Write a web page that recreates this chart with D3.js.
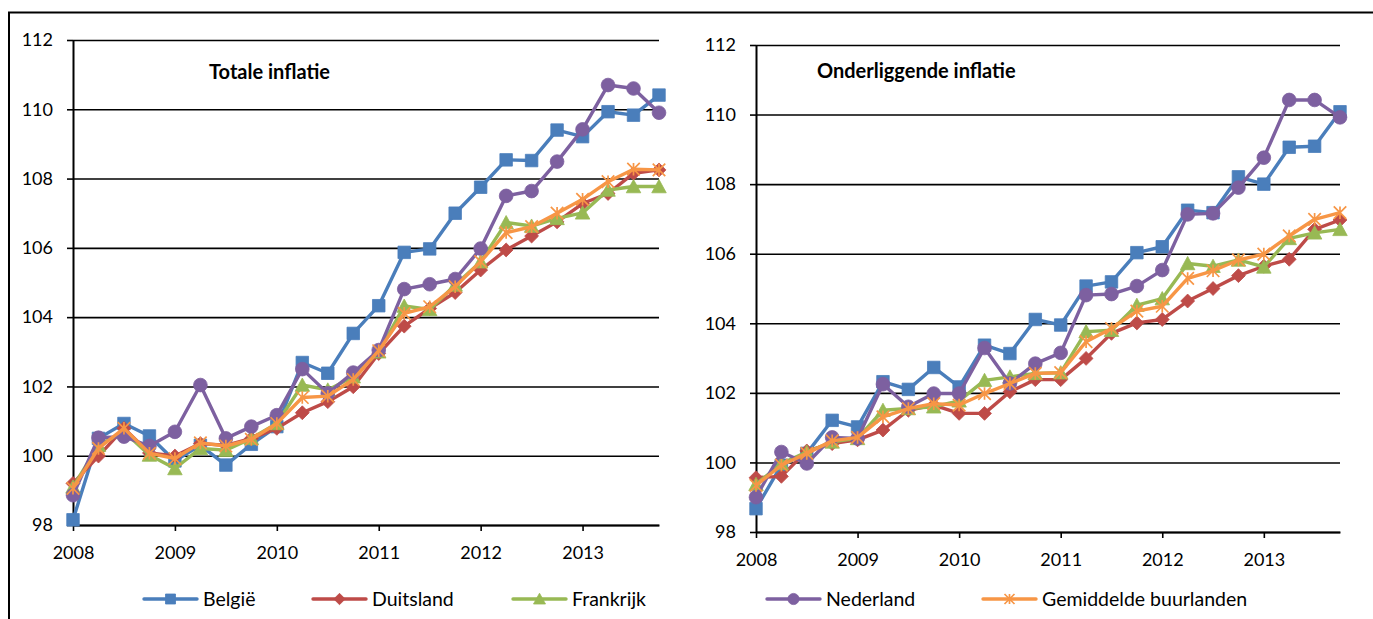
<!DOCTYPE html>
<html>
<head>
<meta charset="utf-8">
<script src="https://cdn.jsdelivr.net/npm/d3@7"></script>
<style>
  html, body { margin: 0; padding: 0; background: #fff; }
  svg { display: block; font-family: Lato, "Open Sans", sans-serif; }
</style>
</head>
<body>
<svg id="chart" width="1373" height="619"></svg>
<script>
// ---------- DATA ----------
const categories = [
  "2008K1","2008K2","2008K3","2008K4","2009K1","2009K2","2009K3","2009K4",
  "2010K1","2010K2","2010K3","2010K4","2011K1","2011K2","2011K3","2011K4",
  "2012K1","2012K2","2012K3","2012K4","2013K1","2013K2","2013K3","2013K4"
];
const xTickLabels = ["2008","2009","2010","2011","2012","2013"];
const yTickValues = [98, 100, 102, 104, 106, 108, 110, 112];
const seriesNames = ["België", "Duitsland", "Frankrijk", "Nederland", "Gemiddelde buurlanden"];
const seriesColors = ["#4A7EBB", "#BE4B48", "#98B954", "#7D60A0", "#F79646"];
const seriesMarkers = ["square", "diamond", "triangle", "circle", "star"];
const panelTitles = ["Totale inflatie", "Onderliggende inflatie"];

// Totale inflatie
const totaalBelgie     = [98.15,100.5,100.93,100.57,99.85,100.3,99.73,100.33,100.84,102.69,102.38,103.53,104.33,105.87,105.97,107.0,107.75,108.54,108.52,109.4,109.21,109.93,109.83,110.41];
const totaalDuitsland  = [99.2,99.99,100.79,100.08,99.99,100.35,100.3,100.5,100.79,101.24,101.56,101.99,102.95,103.74,104.25,104.71,105.36,105.94,106.34,106.75,107.28,107.57,108.15,108.25];
const totaalFrankrijk  = [99.1,100.3,100.69,100.02,99.63,100.21,100.16,100.5,100.93,102.04,101.9,102.28,103.0,104.32,104.22,104.93,105.6,106.73,106.63,106.85,107.01,107.67,107.77,107.77];
const totaalNederland  = [98.86,100.52,100.55,100.28,100.69,102.04,100.5,100.84,101.17,102.5,101.8,102.4,103.05,104.81,104.95,105.1,105.98,107.5,107.64,108.49,109.42,110.7,110.6,109.9];
const totaalGemiddeld  = [99.06,100.21,100.79,100.07,99.92,100.37,100.28,100.47,100.93,101.68,101.72,102.2,103.03,104.11,104.3,104.88,105.6,106.44,106.61,107.0,107.4,107.91,108.27,108.25];

// Onderliggende inflatie
const onderBelgie      = [98.67,99.92,100.26,101.21,101.02,102.32,102.1,102.73,102.17,103.37,103.13,104.11,103.95,105.07,105.19,106.03,106.2,107.25,107.18,108.21,108.0,109.06,109.09,110.08];
const onderDuitsland   = [99.56,99.6,100.33,100.54,100.65,100.93,101.5,101.65,101.41,101.41,102.03,102.38,102.38,102.99,103.71,104.01,104.11,104.64,105.0,105.37,105.64,105.84,106.7,106.97];
const onderFrankrijk   = [99.37,99.97,100.3,100.59,100.69,101.5,101.55,101.6,101.77,102.36,102.46,102.56,102.58,103.76,103.8,104.52,104.71,105.72,105.64,105.82,105.62,106.44,106.6,106.7];
const onderNederland   = [99.0,100.3,99.97,100.72,100.69,102.25,101.6,101.98,101.98,103.29,102.27,102.84,103.15,104.81,104.84,105.07,105.53,107.13,107.16,107.9,108.76,110.42,110.42,109.92];
const onderGemiddeld   = [99.34,99.92,100.26,100.62,100.72,101.31,101.55,101.69,101.65,101.98,102.27,102.56,102.58,103.47,103.85,104.35,104.49,105.29,105.51,105.82,105.99,106.51,106.99,107.18];

// ---------- LAYOUT ----------
const svg = d3.select("#chart");
const FONT = 18;

// outer frame (extends beyond the viewport on the right / bottom)
svg.append("rect")
  .attr("x", 9).attr("y", 12.5).attr("width", 1420).attr("height", 700)
  .attr("fill", "none").attr("stroke", "#000").attr("stroke-width", 2);

const panels = [
  { title: panelTitles[0], left: 73, right: 659, top: 40, bottom: 525, titleX: 209, titleY: 79,
    series: [totaalBelgie, totaalDuitsland, totaalFrankrijk, totaalNederland, totaalGemiddeld] },
  { title: panelTitles[1], left: 756, right: 1340, top: 45, bottom: 532, titleX: 817, titleY: 78,
    series: [onderBelgie, onderDuitsland, onderFrankrijk, onderNederland, onderGemiddeld] }
];

function markerPath(type, size) {
  const s = size / 2;
  switch (type) {
    case "square":   return `M${-s},${-s}H${s}V${s}H${-s}Z`;
    case "diamond":  return `M0,${-s - 0.7}L${s + 0.7},0L0,${s + 0.7}L${-s - 0.7},0Z`;
    case "triangle": return `M0,${-s - 0.8}L${s + 1},${s}L${-s - 1},${s}Z`;
    case "circle":   return d3.symbol(d3.symbolCircle, Math.PI * (s + 0.6) * (s + 0.6))();
    case "star":     return `M0,${-s}V${s}M${-s},${-s}L${s},${s}M${-s},${s}L${s},${-s}`;
  }
}
function drawMarker(sel, type, color, size) {
  const p = sel.append("path").attr("d", markerPath(type, size));
  if (type === "star") p.attr("fill", "none").attr("stroke", color).attr("stroke-width", 1.7);
  else p.attr("fill", color).attr("stroke", color).attr("stroke-width", 0.8);
  return p;
}

panels.forEach(p => {
  const g = svg.append("g");
  const x = d3.scalePoint().domain(categories).range([p.left, p.right]);
  const y = d3.scaleLinear().domain([98, 112]).range([p.bottom, p.top]);

  // gridlines
  g.append("g")
    .attr("transform", `translate(${p.left},0)`)
    .call(d3.axisLeft(y).tickValues(yTickValues).tickSize(-(p.right - p.left)).tickFormat(""))
    .call(a => a.select(".domain").remove())
    .call(a => a.selectAll("line").attr("stroke", "#000").attr("stroke-width", 1.6));

  // y axis
  g.append("g")
    .attr("transform", `translate(${p.left},0)`)
    .call(d3.axisLeft(y).tickValues(yTickValues).tickSize(6).tickPadding(14).tickSizeOuter(0))
    .call(a => a.select(".domain").attr("stroke", "#000").attr("stroke-width", 2))
    .call(a => a.selectAll("line").attr("stroke", "#000").attr("stroke-width", 1.6))
    .call(a => a.selectAll("text").attr("fill", "#000").style("font-size", FONT + "px").style("font-family", "Lato, sans-serif"));

  // x axis
  const tickCats = categories.filter((c, i) => i % 4 === 0);
  g.append("g")
    .attr("transform", `translate(0,${p.bottom})`)
    .call(d3.axisBottom(x).tickValues(tickCats).tickSize(6).tickPadding(15).tickSizeOuter(0)
      .tickFormat((d, i) => xTickLabels[i]))
    .call(a => a.select(".domain").attr("stroke", "#000").attr("stroke-width", 2))
    .call(a => a.selectAll("line").attr("stroke", "#000").attr("stroke-width", 1.6))
    .call(a => a.selectAll("text").attr("fill", "#000").style("font-size", FONT + "px").style("font-family", "Lato, sans-serif"));

  // title
  g.append("text")
    .attr("x", p.titleX).attr("y", p.titleY)
    .style("font-size", "20px").style("font-weight", "bold")
    .text(p.title);

  // series
  const line = d3.line().x((d, i) => x(categories[i])).y(d => y(d));
  p.series.forEach((vals, si) => {
    const sg = g.append("g");
    sg.append("path").datum(vals)
      .attr("d", line)
      .attr("fill", "none")
      .attr("stroke", seriesColors[si])
      .attr("stroke-width", 3.4)
      .attr("stroke-linejoin", "round");
    vals.forEach((v, i) => {
      drawMarker(sg.append("g").attr("transform", `translate(${x(categories[i])},${y(v)})`),
        seriesMarkers[si], seriesColors[si], 12.5);
    });
  });
});

// legend
const legendY = 599;
const legendLineStart = [144, 313, 513, 767, 983];
const legend = svg.append("g");
seriesNames.forEach((name, i) => {
  const lx = legendLineStart[i];
  const lg = legend.append("g");
  lg.append("line")
    .attr("x1", lx).attr("x2", lx + 53).attr("y1", legendY).attr("y2", legendY)
    .attr("stroke", seriesColors[i]).attr("stroke-width", 3.4).attr("stroke-linecap", "round");
  drawMarker(lg.append("g").attr("transform", `translate(${lx + 26.5},${legendY})`),
    seriesMarkers[i], seriesColors[i], 10);
  lg.append("text")
    .attr("x", lx + 59).attr("y", legendY).attr("dy", "0.35em")
    .style("font-size", "19.5px")
    .text(name);
});
</script>
</body>
</html>
